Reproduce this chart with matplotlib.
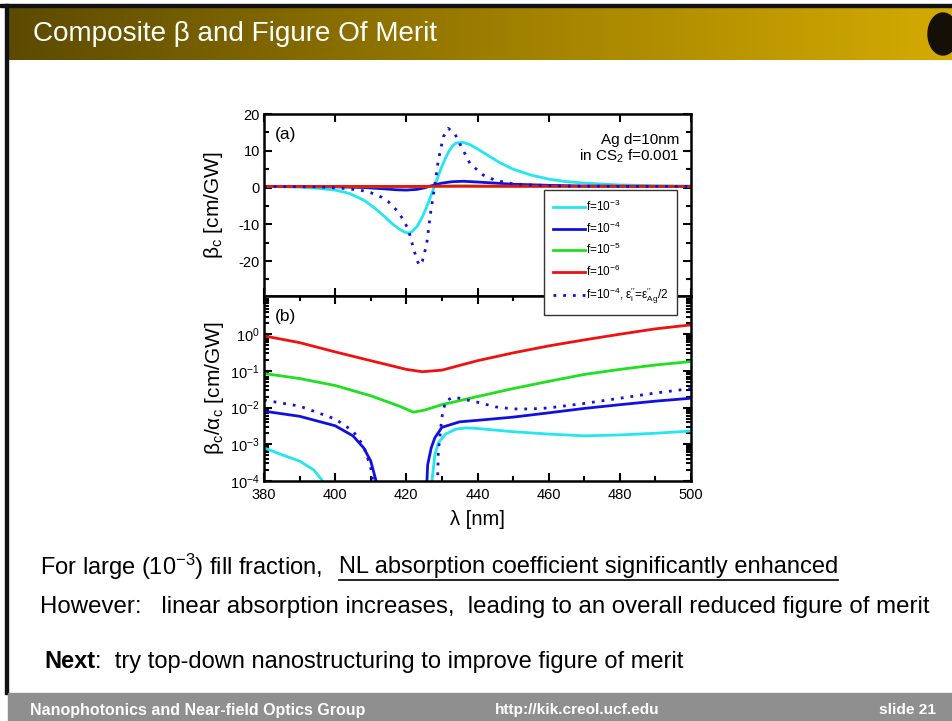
import matplotlib.pyplot as plt
import numpy as np
from matplotlib.colors import LinearSegmentedColormap
from matplotlib.patches import Rectangle, Ellipse
from matplotlib.ticker import MultipleLocator, LogLocator, NullFormatter

plt.rcParams['font.family'] = ['Liberation Sans', 'DejaVu Sans']
plt.rcParams['mathtext.fontset'] = 'custom'
plt.rcParams['mathtext.rm'] = 'Liberation Sans'
plt.rcParams['mathtext.it'] = 'Liberation Sans'
plt.rcParams['mathtext.bf'] = 'Liberation Sans:bold'
plt.rcParams['axes.unicode_minus'] = False

# ---- panel (a): beta_c [cm/GW] vs wavelength [nm]
lam_a_cyan = [380, 390, 395, 400, 404, 408, 411, 414, 416, 418, 419.5, 420.5, 421.5, 423, 424.5,
              426, 427, 428, 429, 430, 431, 432, 433, 434, 436, 438, 440, 443, 446, 450, 455,
              460, 465, 470, 480, 490, 500]
beta_cyan = [0.3, 0.1, -0.2, -0.7, -1.6, -3.4, -5.5, -8.0, -9.8, -11.3, -12.1, -12.4, -12.1, -10.6, -8.0,
             -4.6, -2.0, 0.6, 3.2, 5.8, 8.0, 9.9, 11.3, 12.1, 12.3, 11.6, 10.5, 8.7, 6.9, 5.0, 3.4,
             2.3, 1.6, 1.2, 0.7, 0.5, 0.4]
lam_a_blue = [380, 400, 408, 413, 417, 420, 423, 425, 427.5, 430, 433, 436, 440, 445, 450, 460, 470, 500]
beta_blue = [0.3, 0.2, 0.0, -0.3, -0.6, -0.7, -0.5, -0.1, 0.6, 1.2, 1.6, 1.7, 1.5, 1.2, 0.9, 0.6, 0.4, 0.3]
lam_a_green = [380, 420, 425, 435, 450, 500]
beta_green = [0.3, 0.2, 0.3, 0.45, 0.35, 0.3]
lam_a_red = [380, 420, 430, 500]
beta_red = [0.3, 0.3, 0.35, 0.3]
lam_a_dot = [380, 395, 402, 407, 410, 413, 415, 417, 419, 420.6, 422, 423, 423.7, 424.5, 425.7,
             426.8, 427.9, 429, 430.4, 431.8, 433.7, 435.5, 437.9, 441.6, 444.9, 450, 455, 465, 480, 500]
beta_dot = [0.3, 0.2, -0.2, -0.7, -1.4, -2.6, -3.9, -5.9, -8.5, -11.5, -16.5, -19.8, -21.2, -20.0, -15.5,
            -7.0, 0.0, 7.5, 13.8, 16.1, 14.5, 11.0, 6.5, 3.4, 2.0, 1.0, 0.7, 0.4, 0.3, 0.3]

# ---- panel (b): beta_c/alpha_c [cm/GW]
lam_b_red = [380, 390, 400, 410, 420, 424.5, 430, 440, 450, 460, 470, 480, 490, 500]
fom_red = [0.9, 0.59, 0.33, 0.19, 0.11, 0.095, 0.105, 0.19, 0.31, 0.48, 0.7, 1.0, 1.4, 1.8]
lam_b_green = [380, 390, 400, 410, 418, 422, 425, 430, 440, 450, 460, 470, 480, 490, 500]
fom_green = [0.085, 0.062, 0.04, 0.021, 0.011, 0.0075, 0.0085, 0.012, 0.02, 0.033, 0.052, 0.08, 0.11, 0.145, 0.18]
lam_b_blue = [380, 390, 400, 405, 408, 410, 411.5, 412, 425.3, 426, 427, 428, 430, 435, 440, 450, 460, 470,
              480, 490, 500]
fom_blue = [0.008, 0.0058, 0.0032, 0.0017, 0.0008, 0.00035, 0.0001, 1e-5, 1e-5, 0.00028, 0.0008, 0.0015,
            0.0029, 0.0041, 0.0045, 0.0055, 0.0072, 0.0095, 0.012, 0.015, 0.018]
lam_b_cyan = [380, 385, 390, 394, 396.5, 397, 426.8, 427.2, 428, 429, 431, 434, 437, 440, 450, 460, 470,
              480, 490, 500]
fom_cyan = [0.0008, 0.00052, 0.00035, 0.0002, 0.0001, 1e-5, 1e-5, 0.0001, 0.0005, 0.0011, 0.0019, 0.0026,
            0.0028, 0.0027, 0.0022, 0.0019, 0.0017, 0.0018, 0.002, 0.0023]
lam_b_dot = [380, 390, 400, 405, 408, 410, 410.6, 411, 428.5, 429, 430, 431, 433, 435, 440, 445, 450, 455,
             460, 470, 480, 490, 500]
fom_dot = [0.016, 0.011, 0.0049, 0.0023, 0.0009, 0.00023, 0.0001, 1e-5, 1e-5, 0.00065, 0.0055, 0.015, 0.019,
           0.018, 0.014, 0.0105, 0.0092, 0.0092, 0.0098, 0.013, 0.018, 0.025, 0.033]

legend_labels = ['f=10$^{-3}$', 'f=10$^{-4}$', 'f=10$^{-5}$', 'f=10$^{-6}$',
                 'f=10$^{-4}$, ε$_i^{\\prime\\prime}$=ε$_{Ag}^{\\prime\\prime}$/2']

CYAN = '#22e6f0'
BLUE = '#1010e0'
GREEN = '#1ee01e'
RED = '#f01010'

fig = plt.figure(figsize=(9.53, 7.21), dpi=100)
renderer = fig.canvas.get_renderer()

# ---- slide decoration (pixel coordinates)
bg = fig.add_axes([0, 0, 1, 1])
bg.set_xlim(0, 953)
bg.set_ylim(721, 0)
bg.axis('off')
gold = LinearSegmentedColormap.from_list('gold', ['#5c4a00', '#9c7d00', '#d4ab00'])
bg.imshow(np.linspace(0, 1, 256).reshape(1, -1), extent=[8, 953, 60, 7], aspect='auto', cmap=gold)
bg.add_patch(Rectangle((0, 3.5), 953, 3.5, color='#111111'))
bg.add_patch(Rectangle((5.5, 3.5), 2.5, 690, color='#111111'))
bg.add_patch(Rectangle((8, 693), 945, 28, color='#8f8f8f'))
bg.add_patch(Ellipse((943, 34), 30, 42, color='#151005'))
bg.set_xlim(0, 953)
bg.set_ylim(721, 0)


def fit(x, y, s, right, **kw):
    # scale the font so that the text spans x..right pixels
    t = bg.text(x, y, s, **kw)
    w = t.get_window_extent(renderer).width
    t.set_fontsize(t.get_fontsize() * (right - x) / w)
    return t


fit(33, 34, 'Composite β and Figure Of Merit', 437, color='white', fontsize=18, va='center')
fit(40, 607, 'However:   linear absorption increases,  leading to an overall reduced figure of merit',
    930, fontsize=15, va='center')

line1 = fit(40, 567, 'For large (10$^{-3}$) fill fraction,  NL absorption coefficient significantly enhanced',
            838, fontsize=15, va='center')
fs1 = line1.get_fontsize()
line1.remove()
bg.text(40, 567, 'For large (10$^{-3}$) fill fraction,', fontsize=fs1, va='center')
ul = bg.text(838, 567, 'NL absorption coefficient significantly enhanced', fontsize=fs1, va='center',
             ha='right')

line3 = fit(44, 662, 'Next:  try top-down nanostructuring to improve figure of merit', 681,
            fontsize=15, va='center')
fs3 = line3.get_fontsize()
line3.remove()
nx = bg.text(44, 662, 'Next', fontsize=fs3, va='center', fontweight='bold')
bg.text(44 + nx.get_window_extent(renderer).width, 662, ':  try top-down nanostructuring to improve figure of merit',
        fontsize=fs3, va='center')

fit(30, 710, 'Nanophotonics and Near-field Optics Group', 365, color='white', fontsize=10,
    fontweight='bold', va='center')
fit(495, 710, 'http://kik.creol.ucf.edu', 660, color='white', fontsize=10, fontweight='bold', va='center')
fit(879, 710, 'slide 21', 936, color='white', fontsize=10, fontweight='bold', va='center')

# ---- panel (a)
ax1 = fig.add_axes([264 / 953, 1 - 296 / 721, 427 / 953, (296 - 114) / 721])
ax2 = fig.add_axes([264 / 953, 1 - 481 / 721, 427 / 953, (481 - 296) / 721])

h1, = ax1.plot(lam_a_cyan, beta_cyan, color=CYAN, lw=2)
h2, = ax1.plot(lam_a_blue, beta_blue, color=BLUE, lw=2)
h3, = ax1.plot(lam_a_green, beta_green, color=GREEN, lw=2)
h4, = ax1.plot(lam_a_red, beta_red, color=RED, lw=2)
h5, = ax1.plot(lam_a_dot, beta_dot, color=BLUE, lw=2, ls=(0, (1, 2.5)))
ax1.set_xlim(380, 500)
ax1.set_ylim(-29.5, 20)
ax1.set_yticks([-20, -10, 0, 10, 20])
ax1.yaxis.set_minor_locator(MultipleLocator(5))
ax1.tick_params(labelbottom=False)
ax1.set_ylabel('β$_c$ [cm/GW]', fontsize=15, labelpad=10)
ax1.text(0.025, 0.93, '(a)', transform=ax1.transAxes, fontsize=12.5, va='top')
ax1.text(0.973, 0.895, 'Ag d=10nm\nin CS$_2$ f=0.001', transform=ax1.transAxes, fontsize=11,
         va='top', ha='right', linespacing=1.05)

# ---- panel (b)
ax2.plot(lam_b_cyan, fom_cyan, color=CYAN, lw=2)
ax2.plot(lam_b_blue, fom_blue, color=BLUE, lw=2)
ax2.plot(lam_b_green, fom_green, color=GREEN, lw=2)
ax2.plot(lam_b_red, fom_red, color=RED, lw=2)
ax2.plot(lam_b_dot, fom_dot, color=BLUE, lw=2, ls=(0, (1, 2.5)))
ax2.set_yscale('log')
ax2.set_xlim(380, 500)
ax2.set_ylim(1e-4, 11)
ax2.yaxis.set_minor_locator(LogLocator(base=10, subs=np.arange(2, 10), numticks=20))
ax2.yaxis.set_minor_formatter(NullFormatter())
ax2.set_yticks([1e-4, 1e-3, 1e-2, 1e-1, 1e0])
ax2.set_xticks([380, 400, 420, 440, 460, 480, 500])
ax2.xaxis.set_minor_locator(MultipleLocator(10))
ax2.set_xlabel('λ [nm]', fontsize=14.5, labelpad=6)
ax2.set_ylabel('β$_c$/α$_c$ [cm/GW]', fontsize=15, labelpad=3)
ax2.text(0.025, 0.93, '(b)', transform=ax2.transAxes, fontsize=12.5, va='top')

for ax in (ax1, ax2):
    for s in ax.spines.values():
        s.set_linewidth(1.8)
    ax.tick_params(which='both', direction='in', top=True, right=True, labelsize=10.5, width=1.5, pad=3)
    ax.tick_params(which='major', length=6)
    ax.tick_params(which='minor', length=3.5)
ax2.tick_params(axis='x', pad=5)

fig.legend([h1, h2, h3, h4, h5], legend_labels, loc='upper left',
           bbox_to_anchor=(544 / 953, 1 - 190 / 721), fontsize=8.5, frameon=True, fancybox=False,
           edgecolor='#333333', framealpha=1, handlelength=2.7, handletextpad=0.1,
           labelspacing=0.55, borderpad=0.75, borderaxespad=0)

# underline
fig.canvas.draw()
bb = ul.get_window_extent()
inv = bg.transData.inverted()
x0, _ = inv.transform((bb.x0, bb.y0))
x1, _ = inv.transform((bb.x1, bb.y0))
bg.plot([x0, x1], [579.5, 579.5], color='black', lw=1.2)

fig.savefig('out.png', dpi=100)
